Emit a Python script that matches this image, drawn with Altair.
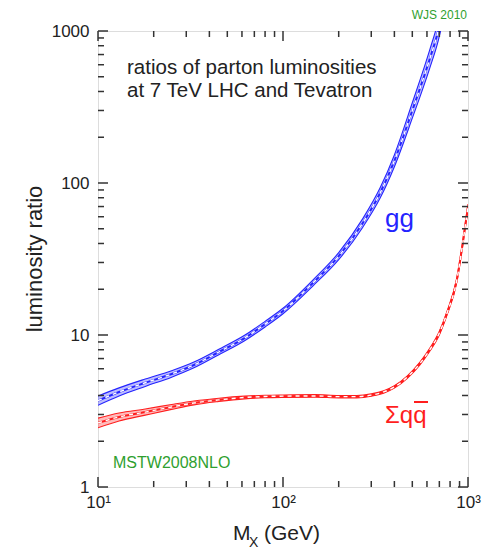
import altair as alt
import pandas as pd

# ---------------- data ----------------
gg_mass = [10, 13, 18, 25, 33, 45, 62, 80, 100, 145, 200, 270, 335, 400, 500, 620, 690, 720]
gg_center = [3.70, 4.22, 4.85, 5.54, 6.35, 7.73, 9.55, 11.8, 14.4, 22.0, 33.0, 54.6, 86, 140, 300, 650, 1000, 1250]
gg_lo = [3.45, 3.97, 4.59, 5.28, 6.08, 7.42, 9.17, 11.3, 13.8, 21.0, 31.3, 51.2, 79.6, 128, 267, 566, 861, 1071]
gg_hi = [3.97, 4.49, 5.13, 5.82, 6.64, 8.05, 9.95, 12.3, 15.0, 23.0, 34.8, 58.3, 93.0, 153, 337, 746, 1161, 1459]

qq_mass = [10, 13, 18, 25, 33, 45, 62, 80, 100, 150, 200, 250, 300, 350, 400, 470, 550, 620, 700, 770, 870, 930, 1000]
qq_center = [2.64, 2.89, 3.11, 3.36, 3.57, 3.74, 3.88, 3.94, 3.96, 3.97, 3.93, 3.93, 4.02, 4.22, 4.55, 5.29, 6.50, 7.96, 10.3, 13.9, 23.0, 37.9, 70]
qq_lo = [2.45, 2.72, 2.97, 3.24, 3.47, 3.65, 3.80, 3.87, 3.89, 3.90, 3.86, 3.86, 3.95, 4.14, 4.47, 5.19, 6.36, 7.78, 10.0, 13.5, 22.3, 36.7, 67.4]
qq_hi = [2.84, 3.07, 3.26, 3.49, 3.68, 3.84, 3.96, 4.01, 4.03, 4.05, 4.00, 4.00, 4.10, 4.30, 4.64, 5.39, 6.64, 8.14, 10.6, 14.3, 23.7, 39.1, 72.7]

x_major = [10, 100, 1000]
x_minor = [20, 30, 40, 50, 60, 70, 80, 90, 200, 300, 400, 500, 600, 700, 800, 900]
y_major = [1, 10, 100, 1000]
y_minor = [2, 3, 4, 5, 6, 7, 8, 9, 20, 30, 40, 50, 60, 70, 80, 90,
           200, 300, 400, 500, 600, 700, 800, 900]
x_tick_labels = ["10¹", "10²", "10³"]

title_lines = ["ratios of parton luminosities", "at 7 TeV LHC and Tevatron"]
credit_text = ["WJS 2010"]
pdf_text = ["MSTW2008NLO"]
gg_label = ["gg"]
qq_label = ["Σqq"]
y_title = ["luminosity ratio"]
x_title_main = ["M"]
x_title_sub = ["X"]
x_title_unit = ["(GeV)"]

# ---------------- styling ----------------
W, H = 370, 456
BLUE = "#2424ff"
RED = "#ff1e1e"
GREEN = "#2f9f2f"
INK = "#333333"
FONT = "Liberation Sans"

xs = alt.Scale(type="log", domain=[10, 1000], nice=False)
ys = alt.Scale(type="log", domain=[1, 1000], nice=False)

label_expr = "[" + ",".join("'" + s + "'" for s in x_tick_labels) + "][indexof([" + \
    ",".join(str(v) for v in x_major) + "], datum.value)]"

xaxis = alt.Axis(values=x_major, labelExpr=label_expr, ticks=False, domain=False, grid=False,
                 labelFont=FONT, labelFontSize=17, labelPadding=7, labelColor="#222",
                 labelFlush=False, labelOverlap=False, title=None)
yaxis = alt.Axis(values=y_major, format="d", ticks=False, domain=False, grid=False,
                 labelFont=FONT, labelFontSize=17, labelPadding=9, labelColor="#222",
                 labelFlush=False, labelOverlap=False, title=None)


def band(mass, center, lo, hi, color):
    df = pd.DataFrame({"m": mass, "c": center, "lo": lo, "hi": hi})
    base = alt.Chart(df).encode(x=alt.X("m:Q", scale=xs, axis=xaxis))
    area = base.mark_area(color=color, opacity=0.3, clip=True, interpolate="monotone").encode(
        y=alt.Y("lo:Q", scale=ys, axis=yaxis), y2="hi:Q")
    lo_line = base.mark_line(color=color, strokeWidth=1.1, clip=True, interpolate="monotone").encode(
        y=alt.Y("lo:Q", scale=ys, axis=yaxis))
    hi_line = base.mark_line(color=color, strokeWidth=1.1, clip=True, interpolate="monotone").encode(
        y=alt.Y("hi:Q", scale=ys, axis=yaxis))
    c_line = base.mark_line(color=color, strokeWidth=2.0, clip=True, interpolate="monotone").encode(
        y=alt.Y("c:Q", scale=ys, axis=yaxis))
    c_dash = base.mark_line(color="white", strokeWidth=1.4, strokeDash=[4, 4], clip=True,
                            interpolate="monotone").encode(y=alt.Y("c:Q", scale=ys, axis=yaxis))
    return [area, lo_line, hi_line, c_line, c_dash]


def xticks(vals, length):
    df = pd.DataFrame({"t": vals})
    b = alt.Chart(df).mark_rule(color=INK, strokeWidth=1.5).encode(
        x=alt.X("t:Q", scale=xs, axis=xaxis), y=alt.value(H), y2=alt.value(H - length))
    t = alt.Chart(df).mark_rule(color=INK, strokeWidth=1.5).encode(
        x=alt.X("t:Q", scale=xs, axis=xaxis), y=alt.value(0), y2=alt.value(length))
    return [b, t]


def yticks(vals, length):
    df = pd.DataFrame({"t": vals})
    l = alt.Chart(df).mark_rule(color=INK, strokeWidth=1.5).encode(
        y=alt.Y("t:Q", scale=ys, axis=yaxis), x=alt.value(0), x2=alt.value(length))
    r = alt.Chart(df).mark_rule(color=INK, strokeWidth=1.5).encode(
        y=alt.Y("t:Q", scale=ys, axis=yaxis), x=alt.value(W), x2=alt.value(W - length))
    return [l, r]


def text(values, x, y, size, color, align="left", angle=0, weight="normal", baseline="alphabetic"):
    df = pd.DataFrame({"t": values, "i": list(range(len(values)))})
    kw = dict(align=align, baseline=baseline, font=FONT, fontSize=size, color=color,
              fontWeight=weight, lineHeight=size)
    if angle:
        kw["angle"] = angle
    return alt.Chart(df).mark_text(**kw).encode(text="t:N", x=alt.value(x), y=alt.value(y))


layers = []
layers += band(gg_mass, gg_center, gg_lo, gg_hi, BLUE)
layers += band(qq_mass, qq_center, qq_lo, qq_hi, RED)
layers += xticks(x_major, 10) + xticks(x_minor, 6)
layers += yticks(y_major, 10) + yticks(y_minor, 6)

layers += [
    text([title_lines[0]], 29, 43, 20.5, "#222"),
    text([title_lines[1]], 29, 66, 20.5, "#222"),
    text(credit_text, 369, -12, 12, GREEN, align="right"),
    text(pdf_text, 15, 437, 16, GREEN),
    text(gg_label, 287, 196, 26, BLUE),
    text(qq_label, 287, 392, 24, RED),
    alt.Chart(pd.DataFrame({"k": [0]})).mark_rule(color=RED, strokeWidth=2).encode(
        x=alt.value(316), x2=alt.value(330), y=alt.value(371)),
    text(y_title, -63, 228, 22, "#222", align="center", angle=270, baseline="middle"),
    text(x_title_main, 135, 509, 21, "#222"),
    text(x_title_sub, 151, 516, 14, "#222"),
    text(x_title_unit, 166, 509, 21, "#222"),
]

chart = alt.layer(*layers).properties(
    width=W, height=H,
    autosize=alt.AutoSizeParams(type="none"),
    padding={"left": 98, "top": 31, "right": 15, "bottom": 63},
).configure_view(stroke=INK, strokeWidth=2).configure(background="white")

chart.save("out.html", embed_options={"renderer": "svg", "actions": False})
